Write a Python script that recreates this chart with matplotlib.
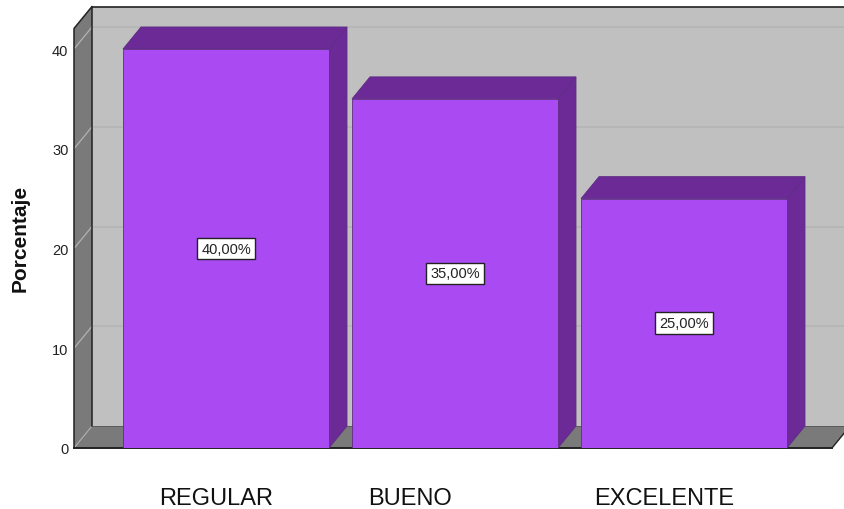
import matplotlib
matplotlib.use('Agg')
import matplotlib.pyplot as plt
from matplotlib.patches import Polygon

plt.rcParams['font.family'] = ['Liberation Sans', 'DejaVu Sans']

categories = ['REGULAR', 'BUENO', 'EXCELENTE']
values = [40, 35, 25]
value_labels = ['40,00%', '35,00%', '25,00%']
yticks = [0, 10, 20, 30, 40]

W, H = 844, 510
x0_px, x1_px = 74, 832
y0_px, y_top_px = 449, 29.5
pitch_px = 229
first_center_px = 226

BAR = '#a94af3'
BAR_DARK = '#6b2a96'
BAR_EDGE = '#5f2d85'
WALL = '#c0c0c0'
SIDE = '#7a7a7a'
GRID = '#b3b3b3'

fig = plt.figure(figsize=(W / 100, H / 100), dpi=100)
ax = fig.add_axes([x0_px / W, 1 - y0_px / H, (x1_px - x0_px) / W, (y0_px - y_top_px) / H])
ax.set_xlim((x0_px - first_center_px) / pitch_px, (x1_px - first_center_px) / pitch_px)
ax.set_ylim(0, (y0_px - y_top_px) / 9.975)
ax.patch.set_visible(False)

xl, xr = ax.get_xlim()
ytop = ax.get_ylim()[1]
# depth of the fake 3d box, in data units
dx = 18 / pitch_px
dy = 22 / 9.975
width = 206 / pitch_px


def poly(pts, fc, ec='none', lw=0.6, z=1):
    ax.add_patch(Polygon(pts, closed=True, facecolor=fc, edgecolor=ec, linewidth=lw, zorder=z, clip_on=False))


# walls and floor
poly([(xl + dx, dy), (xr + 2 * dx, dy), (xr + 2 * dx, ytop + dy), (xl + dx, ytop + dy)], WALL)
poly([(xl, 0), (xl + dx, dy), (xl + dx, ytop + dy), (xl, ytop)], SIDE)
poly([(xl, 0), (xr, 0), (xr + dx, dy), (xl + dx, dy)], SIDE)

# gridlines on back and side wall
for t in yticks[1:]:
    ax.plot([xl + dx, xr + 2 * dx], [t + dy, t + dy], color=GRID, lw=1.1, zorder=2, clip_on=False)
    ax.plot([xl, xl + dx], [t, t + dy], color=GRID, lw=0.9, zorder=2, clip_on=False)
ax.plot([xl, xl + dx], [0, dy], color=GRID, lw=0.7, zorder=2, clip_on=False)

# frame
ax.plot([xl, xl, xl + dx, xl + dx], [0, ytop, ytop + dy, dy], color='#222222', lw=1.1, zorder=3, clip_on=False)
ax.plot([xl + dx, xr + 2 * dx], [ytop + dy, ytop + dy], color='#222222', lw=1.2, zorder=3, clip_on=False)
ax.plot([xl + dx, xr + 2 * dx], [dy, dy], color='#555555', lw=0.6, zorder=3, clip_on=False)
ax.plot([xr, xr + dx], [0, dy], color='#222222', lw=1, zorder=3, clip_on=False)
ax.plot([xl, xr], [0, 0], color='#222222', lw=1.4, zorder=3, clip_on=False)

# bars
for i, v in enumerate(values):
    l, r = i - width / 2, i + width / 2
    poly([(r, 0), (r + dx, dy), (r + dx, v + dy), (r, v)], BAR_DARK, BAR_EDGE, z=4)
    poly([(l, v), (r, v), (r + dx, v + dy), (l + dx, v + dy)], BAR_DARK, BAR_EDGE, z=4)
    ax.bar(i, v, width=width, color=BAR, edgecolor=BAR_EDGE, linewidth=0.6, zorder=5)
    ax.text(i, v / 2, value_labels[i], ha='center', va='center', fontsize=10.5, color='#222222', zorder=6,
            bbox=dict(boxstyle='square,pad=0.27', fc='white', ec='#222222', lw=1))

for s in ax.spines.values():
    s.set_visible(False)
ax.set_yticks(yticks)
ax.tick_params(axis='y', length=0, pad=4, labelsize=10.5, labelcolor='#222222')
ax.set_xticks([])

# category labels sit off-centre in the original
label_px = [216.5, 410, 664]
for name, px in zip(categories, label_px):
    fig.text(px / W, 1 - 505 / H, name, ha='center', va='baseline', fontsize=17, color='#111111')

fig.text(20 / W, 1 - 238 / H, 'Porcentaje', rotation=90, ha='center', va='center', fontsize=15, fontweight='bold', color='#111111')

fig.savefig('out.png', dpi=100)
